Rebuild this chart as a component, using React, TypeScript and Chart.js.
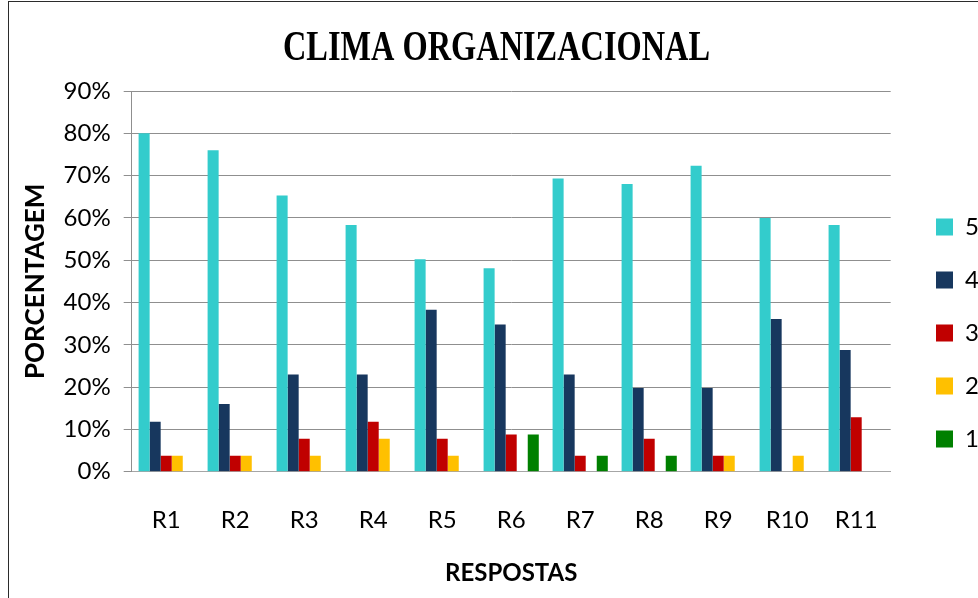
import React, { useEffect, useRef } from "react";
import { Chart, registerables } from "chart.js";

Chart.register(...registerables);

// Response groups on the x axis
const categories = ["R1", "R2", "R3", "R4", "R5", "R6", "R7", "R8", "R9", "R10", "R11"];

// Share of answers (%) per score, for each response group
const score5 = [80, 76, 65.3, 58.3, 50.2, 48.1, 69.3, 68, 72.3, 60, 58.3];
const score4 = [11.8, 16, 23, 23, 38.3, 34.8, 23, 19.8, 19.8, 36.1, 28.8];
const score3 = [3.8, 3.8, 7.8, 11.8, 7.8, 8.8, 3.8, 7.8, 3.8, 0, 12.9];
const score2 = [3.8, 3.8, 3.8, 7.8, 3.8, 0, 0, 0, 3.8, 3.8, 0];
const score1 = [0, 0, 0, 0, 0, 8.8, 3.8, 3.8, 0, 0, 0];

const seriesLabels = ["5", "4", "3", "2", "1"];
const seriesColors = ["#33CCCC", "#17375E", "#C00000", "#FFC000", "#008000"];

// Value axis ticks
const yMin = 0;
const yMax = 90;
const yStep = 10;

const chartTitle = "CLIMA ORGANIZACIONAL";
const yTitle = "PORCENTAGEM";
const xTitle = "RESPOSTAS";

const WIDTH = 978;
const HEIGHT = 598;
const LEGEND_PADDING = 29;

// Narrow serif heading painted above the plot
const condensedTitle = {
  id: "condensedTitle",
  afterDraw(chart: any) {
    const { ctx } = chart;
    ctx.save();
    ctx.font = 'bold 42px "Liberation Serif", "Times New Roman", serif';
    ctx.fillStyle = "#000";
    ctx.textAlign = "center";
    ctx.textBaseline = "alphabetic";
    const natural = ctx.measureText(chartTitle).width;
    ctx.translate(496.5, 60);
    ctx.scale(427 / natural, 1);
    ctx.fillText(chartTitle, 0, 0);
    ctx.restore();
  },
};

// Moves the legend column into place beside the plot
const legendPlacement = {
  id: "legendPlacement",
  afterLayout(chart: any) {
    const lg = chart.legend;
    if (!lg) return;
    const dx = 936 - (lg.left + LEGEND_PADDING);
    const dy = -11.5;
    lg.left += dx;
    lg.right += dx;
    lg.top += dy;
    lg.bottom += dy;
  },
};

export default function App() {
  const canvasRef = useRef<HTMLCanvasElement | null>(null);

  useEffect(() => {
    if (!canvasRef.current) return;
    const values = [score5, score4, score3, score2, score1];
    const chart = new Chart(canvasRef.current, {
      type: "bar",
      data: {
        labels: categories,
        datasets: values.map((data, i) => ({
          label: seriesLabels[i],
          data,
          backgroundColor: seriesColors[i],
          borderWidth: 0,
          categoryPercentage: 0.8,
          barPercentage: 1.0,
        })),
      },
      options: {
        responsive: false,
        animation: false,
        events: [],
        devicePixelRatio: 1,
        layout: { padding: { top: 91, right: 5.4, bottom: 0, left: 0 } },
        font: { family: "Lato, 'Noto Sans', sans-serif" },
        color: "#000",
        plugins: {
          title: { display: false },
          tooltip: { enabled: false },
          legend: {
            position: "right",
            align: "center",
            labels: {
              boxWidth: 17,
              boxHeight: 17,
              padding: LEGEND_PADDING,
              color: "#000",
              font: { family: "Lato, 'Noto Sans', sans-serif", size: 24 },
            },
          },
        },
        scales: {
          x: {
            offset: true,
            grid: { display: false, drawTicks: false },
            border: { display: true, color: "#a6a6a6", width: 1 },
            ticks: {
              color: "#000",
              padding: 34,
              maxRotation: 0,
              autoSkip: false,
              font: { family: "Lato, 'Noto Sans', sans-serif", size: 24 },
            },
            title: {
              display: true,
              text: xTitle,
              color: "#000",
              font: { family: "Lato, 'Noto Sans', sans-serif", size: 24, weight: "bold" },
              padding: { top: 0, bottom: 10 },
            },
            afterFit(scale: any) {
              scale.height = HEIGHT - 471.7;
            },
          },
          y: {
            min: yMin,
            max: yMax,
            grid: { color: "#8f8f8f", lineWidth: 1, drawTicks: true, tickLength: 8 },
            border: { display: true, color: "#8f8f8f", width: 1 },
            ticks: {
              stepSize: yStep,
              color: "#000",
              padding: 13,
              font: { family: "Lato, 'Noto Sans', sans-serif", size: 24 },
              callback: (v: any) => `${v}%`,
            },
            title: {
              display: true,
              text: yTitle,
              color: "#000",
              font: { family: "Lato, 'Noto Sans', sans-serif", size: 26, weight: "bold" },
              padding: { top: 20, bottom: 0 },
            },
            afterFit(scale: any) {
              scale.width = 131.7;
            },
          },
        },
      },
      plugins: [condensedTitle, legendPlacement],
    });
    return () => chart.destroy();
  }, []);

  return (
    <div
      style={{
        position: "fixed",
        left: 0,
        top: 0,
        width: WIDTH,
        height: HEIGHT,
        background: "#fff",
        overflow: "hidden",
      }}
    >
      <canvas
        ref={canvasRef}
        width={WIDTH}
        height={HEIGHT}
        style={{ position: "absolute", left: 0, top: 0, width: WIDTH, height: HEIGHT }}
      />
      <div
        style={{
          position: "absolute",
          left: 8,
          top: 1,
          right: 0,
          bottom: 0,
          borderLeft: "1.5px solid #2b2b2b",
          borderTop: "1.5px solid #2b2b2b",
          pointerEvents: "none",
        }}
      />
    </div>
  );
}
